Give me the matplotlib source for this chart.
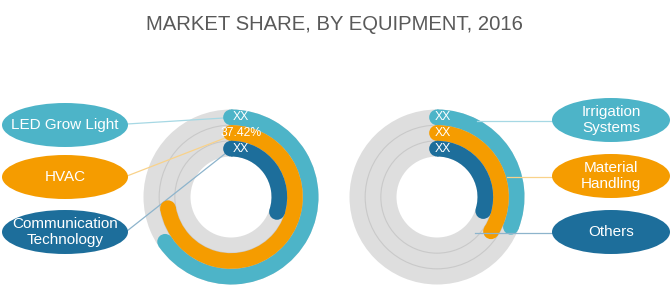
import numpy as np
import matplotlib.pyplot as plt
from matplotlib.patches import Wedge, Circle, Ellipse

# data: share of the full circle swept by each ring (percent)
left_labels = ["LED Grow Light", "HVAC", "Communication\nTechnology"]
left_values = [65.5, 72.2, 30.0]
left_tags = ["XX", "37.42%", "XX"]

right_labels = ["Irrigation\nSystems", "Material\nHandling", "Others"]
right_values = [31.1, 34.0, 29.7]
right_tags = ["XX", "XX", "XX"]

colors = ["#4db4c8", "#f59c00", "#1d6e9b"]
line_colors = ["#a6d8e4", "#f9d28a", "#8db4cc"]

W, H = 671, 285
fig = plt.figure(figsize=(W / 100, H / 100), dpi=100)
ax = fig.add_axes([0, 0, 1, 1])
ax.set_xlim(0, W)
ax.set_ylim(0, H)
ax.axis("off")


def Y(y):
    return H - y


R_OUT, R_IN = 87.5, 40.5
band = (R_OUT - R_IN) / 3
font = "Liberation Sans"


def donut(cx, cy, values, tags, tag_dx):
    ax.add_patch(Wedge((cx, Y(cy)), R_OUT, 0, 360, width=R_OUT - R_IN,
                       facecolor="#dedede", edgecolor="none", zorder=1))
    for k in (1, 2):
        ax.add_patch(Circle((cx, Y(cy)), R_IN + band * k, fill=False,
                            edgecolor="#c9c9c9", lw=0.8, zorder=2))
    for i, (v, t) in enumerate(zip(values, tags)):
        r_outer = R_OUT - band * i
        r_mid = r_outer - band / 2
        sweep = v / 100 * 360
        ax.add_patch(Wedge((cx, Y(cy)), r_outer, 90 - sweep, 90, width=band,
                           facecolor=colors[i], edgecolor="none", zorder=4))
        for a in (90, 90 - sweep):
            a = np.radians(a)
            ax.add_patch(Circle((cx + r_mid * np.cos(a), Y(cy) + r_mid * np.sin(a)),
                                band / 2, facecolor=colors[i], edgecolor="none",
                                zorder=4))
        ax.text(cx + tag_dx, Y(cy) + r_mid, t, color="white", fontsize=8.8,
                family=font, ha="center", va="center", zorder=6)


def bubble(x, y, w, h, text, color):
    ax.add_patch(Ellipse((x, Y(y)), w, h, facecolor=color, edgecolor="none",
                         zorder=5))
    ax.text(x, Y(y), text, color="white", fontsize=11, family=font,
            ha="center", va="center", linespacing=1.2, zorder=6)


lcx, rcx, cy = 231, 437, 197
donut(lcx, cy, left_values, left_tags, 10)
donut(rcx, cy, right_values, right_tags, 6)

# left bubbles and leader lines
left_y = [125, 177, 232]
left_ends = [(224, 118), (225, 138), (226, 153)]
for i in range(3):
    bubble(65, left_y[i], 126, 44, left_labels[i], colors[i])
    ex, ey = left_ends[i]
    ax.plot([127, ex], [Y(left_y[i] - 1), Y(ey)], color=line_colors[i],
            lw=0.9, zorder=3)

# right bubbles and leader lines
right_y = [120, 176, 232]
right_starts = [477, 507, 475]
for i in range(3):
    bubble(611, right_y[i], 118, 44, right_labels[i], colors[i])
    ax.plot([right_starts[i], 553], [Y(right_y[i] + 1)] * 2,
            color=line_colors[i], lw=0.9, zorder=4.5)

ax.text(334, Y(24), "MARKET SHARE, BY EQUIPMENT, 2016", color="#595959",
        fontsize=14.6, family=font, ha="center", va="center")

fig.savefig("out.png", dpi=100, facecolor="white")
